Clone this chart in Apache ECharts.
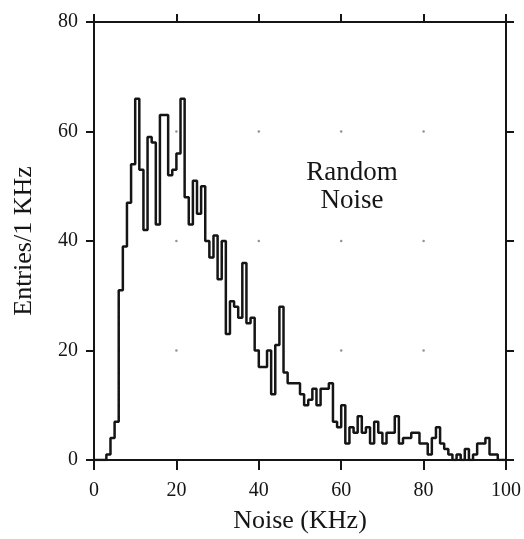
<!DOCTYPE html>
<html>
<head>
<meta charset="utf-8">
<script src="https://cdn.jsdelivr.net/npm/echarts@6/dist/echarts.min.js"></script>
<style>
  html, body { margin: 0; padding: 0; background: #ffffff; }
  #chart { width: 524px; height: 539px; }
</style>
</head>
<body>
<div id="chart"></div>
<script>
// Histogram of noise frequencies, 1 KHz bins from 0 to 100 KHz
const binWidth = 1;
const entries = [
  0, 0, 0, 1, 4, 7, 31, 39, 47, 54,
  66, 53, 42, 59, 58, 43, 63, 63, 52, 53,
  56, 66, 48, 43, 51, 45, 50, 40, 37, 41,
  33, 40, 23, 29, 28, 26, 36, 25, 26, 20,
  17, 17, 20, 12, 21, 28, 16, 14, 14, 14,
  12, 10, 11, 13, 10, 13, 13, 14, 7, 6,
  10, 3, 6, 5, 8, 5, 6, 3, 7, 5,
  3, 5, 5, 8, 3, 4, 4, 5, 5, 3,
  3, 1, 4, 6, 3, 2, 1, 0, 1, 0,
  2, 0, 1, 3, 3, 4, 1, 1, 0, 0
];
const xTicks = [0, 20, 40, 60, 80, 100];
const yTicks = [0, 20, 40, 60, 80];
const xTitle = 'Noise (KHz)';
const yTitle = 'Entries/1 KHz';
const noteLines = ['Random', 'Noise'];

const FONT = 'Liberation Serif';
const INK = '#151515';

// step outline: each bin is a horizontal run from its left edge to the next edge
const stepData = entries.map((v, i) => [i * binWidth, v]);
stepData.push([entries.length * binWidth, entries[entries.length - 1]]);

// faint marks at interior grid crossings
const gridMarks = [];
xTicks.slice(1, -1).forEach(x => yTicks.slice(1, -1).forEach(y => gridMarks.push([x, y])));

const xMin = xTicks[0], xMax = xTicks[xTicks.length - 1];
const yMin = yTicks[0], yMax = yTicks[yTicks.length - 1];
const xStep = xTicks[1] - xTicks[0], yStep = yTicks[1] - yTicks[0];

const axisLine = { show: true, onZero: false, lineStyle: { color: INK, width: 2 } };
const axisTick = { show: true, inside: false, length: 8, lineStyle: { color: INK, width: 2 } };

const chart = echarts.init(document.getElementById('chart'), null, { renderer: 'canvas' });
chart.setOption({
  animation: false,
  backgroundColor: '#ffffff',
  grid: { left: 94, right: 14, top: 22, bottom: 79, containLabel: false },
  xAxis: [
    {
      type: 'value', position: 'bottom', min: xMin, max: xMax, interval: xStep,
      axisLine, axisTick: Object.assign({}, axisTick, { length: 10 }), splitLine: { show: false },
      axisLabel: { color: INK, fontFamily: FONT, fontSize: 20, margin: 21 },
      name: xTitle, nameLocation: 'middle', nameGap: 48,
      nameTextStyle: { color: INK, fontFamily: FONT, fontSize: 26 }
    },
    {
      type: 'value', position: 'top', min: xMin, max: xMax, interval: xStep,
      axisLine, axisTick, splitLine: { show: false }, axisLabel: { show: false }
    }
  ],
  yAxis: [
    {
      type: 'value', position: 'left', min: yMin, max: yMax, interval: yStep,
      axisLine, axisTick, splitLine: { show: false },
      axisLabel: { color: INK, fontFamily: FONT, fontSize: 20, margin: 16 },
      name: yTitle, nameLocation: 'middle', nameGap: 57,
      nameTextStyle: { color: INK, fontFamily: FONT, fontSize: 26 }
    },
    {
      type: 'value', position: 'right', min: yMin, max: yMax, interval: yStep,
      axisLine, axisTick, splitLine: { show: false }, axisLabel: { show: false }
    }
  ],
  series: [
    {
      type: 'scatter', data: gridMarks, symbolSize: 2.5, silent: true,
      itemStyle: { color: '#777777' }, z: 1
    },
    {
      type: 'line', data: stepData, step: 'end', showSymbol: false, symbol: 'none',
      lineStyle: { color: INK, width: 2.5 }, z: 3
    }
  ],
  graphic: noteLines.map((t, i) => ({
    type: 'text', x: 352, y: 173 + i * 28,
    style: {
      text: t, fill: INK, font: '27px "' + FONT + '"',
      textAlign: 'center', textVerticalAlign: 'middle'
    }
  }))
});
</script>
</body>
</html>
